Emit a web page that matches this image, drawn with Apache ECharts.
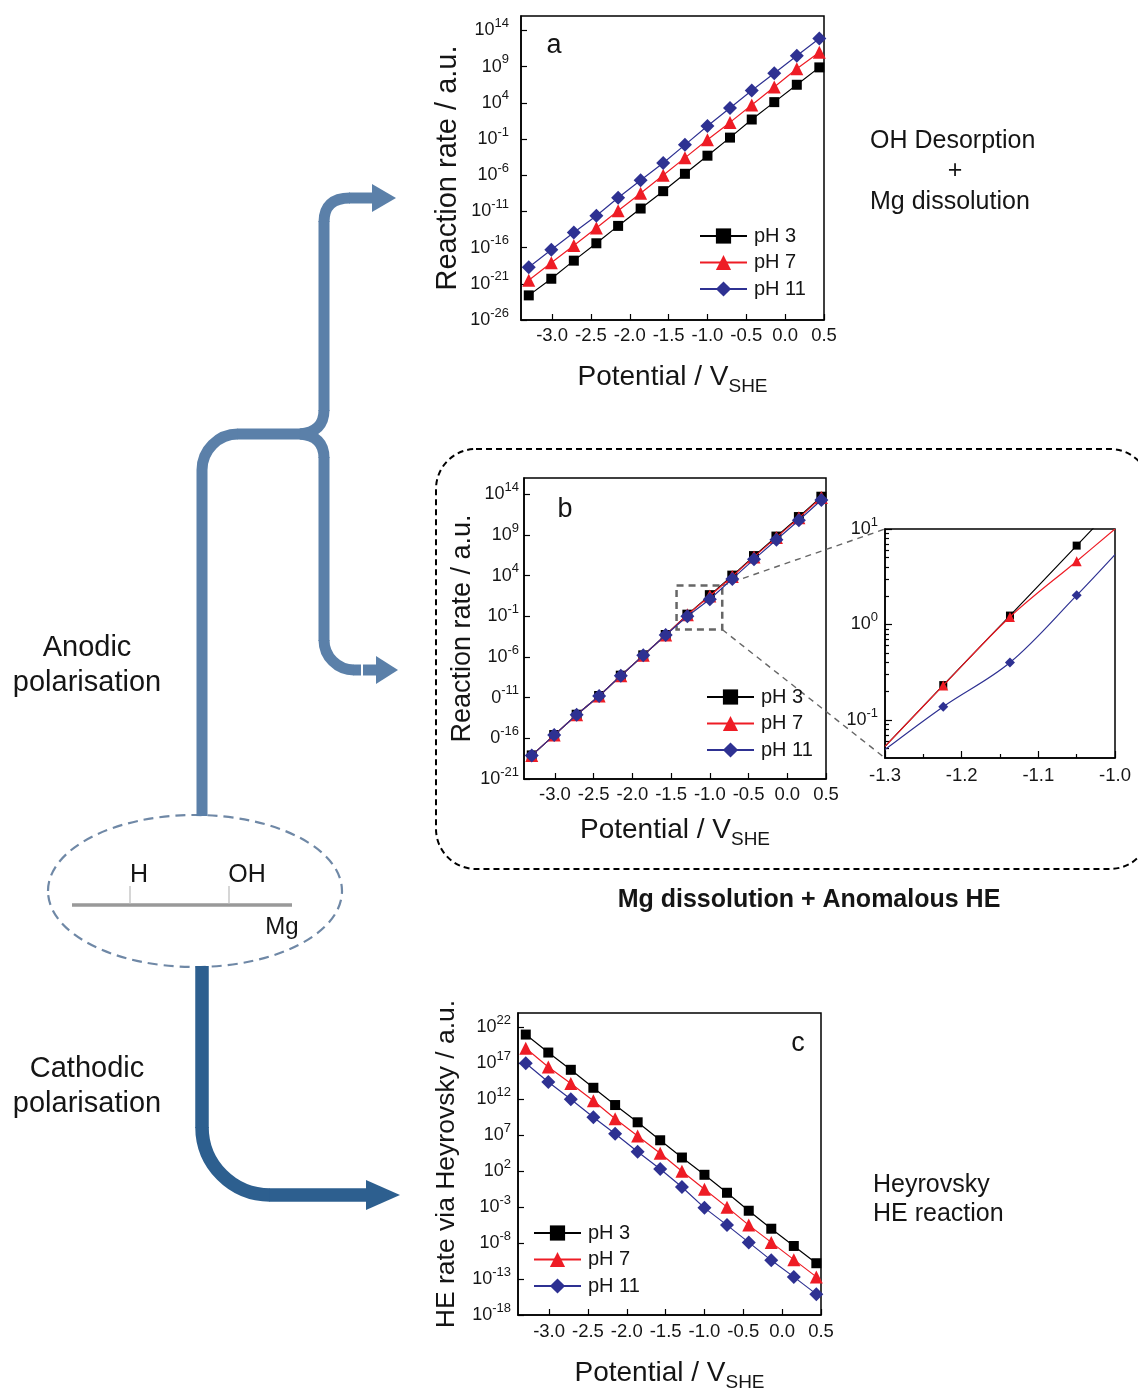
<!DOCTYPE html>
<html>
<head>
<meta charset="utf-8">
<script src="https://cdn.jsdelivr.net/npm/echarts@6/dist/echarts.min.js"></script>
<style>
html,body{margin:0;padding:0;background:#fff;}
#chart{width:1138px;height:1394px;}
</style>
</head>
<body>
<div id="chart"></div>
<script>
// ================= DATA =================
const seriesNames = ['pH 3', 'pH 7', 'pH 11'];
const potential = [-3.30,-3.01,-2.72,-2.43,-2.15,-1.86,-1.57,-1.29,-1.00,-0.71,-0.43,-0.14,0.15,0.44];

// panel a : OH desorption + Mg dissolution (log10 of reaction rate)
const a_pH3  = [-22.6,-20.3,-17.8,-15.4,-13.0,-10.6,-8.2,-5.8,-3.3,-0.8,1.7,4.1,6.5,8.9];
const a_pH7  = [-20.5,-18.1,-15.7,-13.3,-10.9,-8.5,-6.0,-3.6,-1.1,1.3,3.7,6.2,8.7,11.0];
const a_pH11 = [-18.7,-16.3,-13.9,-11.6,-9.1,-6.7,-4.3,-1.8,0.8,3.3,5.7,8.1,10.5,12.9];

// panel b : Mg dissolution + anomalous HE (log10 of reaction rate)
const b_pH3  = [-18.1,-15.6,-13.1,-10.8,-8.3,-5.8,-3.3,-0.8,1.6,4.0,6.4,8.8,11.2,13.7];
const b_pH7  = [-18.1,-15.6,-13.1,-10.8,-8.3,-5.8,-3.3,-0.8,1.5,3.9,6.3,8.7,11.1,13.6];
const b_pH11 = [-18.1,-15.6,-13.1,-10.8,-8.3,-5.8,-3.3,-1.0,1.1,3.6,6.0,8.4,10.8,13.3];

// panel c : HE rate via Heyrovsky (log10)
const c_pH3  = [21.0,18.5,16.1,13.6,11.2,8.8,6.3,3.9,1.5,-1.0,-3.5,-6.0,-8.4,-10.8];
const c_pH7  = [19.1,16.5,14.2,11.8,9.3,6.9,4.5,2.0,-0.5,-3.0,-5.5,-7.9,-10.3,-12.7];
const c_pH11 = [17.0,14.4,12.0,9.5,7.2,4.7,2.3,-0.2,-3.1,-5.5,-7.9,-10.4,-12.7,-15.1];

// axes / ticks
const xRange = [-3.4, 0.5];
const xTicks = [-3.0,-2.5,-2.0,-1.5,-1.0,-0.5,0.0,0.5];
const a_yRange = [-26, 16];
const a_yTicks = [-26,-21,-16,-11,-6,-1,4,9,14];
const b_yRange = [-21, 16];
const b_yTicks = [-21,-16,-11,-6,-1,4,9,14];
const b_yTickBase = ['10','0','0','10','10','10','10','10'];
const c_yRange = [-18, 24];
const c_yTicks = [-18,-13,-8,-3,2,7,12,17,22];

// inset (rate in a.u., log axis)
const insetPotential = [-1.3,-1.224,-1.137,-1.05,-1.0];
const inset_pH3  = [0.053,0.232,1.24,6.7,17.6];
const inset_pH7  = [0.053,0.23,1.2,4.6,10.0];
const inset_pH11 = [0.049,0.138,0.40,2.02,5.4];
const insetMarked = [false,true,true,true,false];
const insetXRange = [-1.3,-1.0];
const insetXTicks = [-1.3,-1.2,-1.1,-1.0];
const insetXMinor = [-1.25,-1.15,-1.05];
const insetYRange = [0.04,10];
const insetYTicks = [0.1,1,10];
const insetYMinor = [0.05,0.06,0.07,0.08,0.09,0.2,0.3,0.4,0.5,0.6,0.7,0.8,0.9,2,3,4,5,6,7,8,9];
// zoom box in panel b (potential, log10 rate)
const zoomBoxX = [-1.43,-0.84];
const zoomBoxY = [-2.63,2.78];

// ================= STYLE =================
const FONT = '"Liberation Sans", Arial, Helvetica, sans-serif';
const TXT = '#151515';
const styleSets = [
  {color:'#000000', symbol:'rect', size:10, inset:8},
  {color:'#ee1c25', symbol:'triangle', size:13, inset:10},
  {color:'#2e3192', symbol:'diamond', size:14, inset:10}
];

function powRich(){
  return {
    b:{fontSize:18, fontFamily:FONT, color:TXT},
    s:{fontSize:13, fontFamily:FONT, color:TXT, padding:[0,0,14,0]}
  };
}

function mainX(g, nameGap, margin){
  return {
    type:'value', gridIndex:g, min:xRange[0], max:xRange[1],
    name:'{n|Potential / V}{s|SHE}', nameLocation:'middle', nameGap:nameGap, nameMoveOverlap:false,
    nameTextStyle:{rich:{
      n:{fontSize:28, lineHeight:34, fontFamily:FONT, color:TXT},
      s:{fontSize:19, lineHeight:19, fontFamily:FONT, color:TXT, padding:[20,0,0,0]}
    }},
    axisLine:{show:true, onZero:false, lineStyle:{color:'#000', width:1.5}},
    axisTick:{show:true, inside:true, length:6, customValues:xTicks, lineStyle:{color:'#000', width:1.2}},
    axisLabel:{show:true, customValues:xTicks, formatter:v=>Number(v).toFixed(1), fontSize:18.5, fontFamily:FONT, color:TXT, margin:margin},
    splitLine:{show:false}
  };
}
function mainY(g, range, ticks, base, name, nameSize, nameGap, margin){
  return {
    type:'value', gridIndex:g, min:range[0], max:range[1],
    name:name, nameLocation:'middle', nameRotate:90, nameGap:nameGap, nameMoveOverlap:false,
    nameTextStyle:{fontSize:nameSize, fontFamily:FONT, color:TXT},
    axisLine:{show:true, onZero:false, lineStyle:{color:'#000', width:1.5}},
    axisTick:{show:true, inside:true, length:6, customValues:ticks, lineStyle:{color:'#000', width:1.2}},
    axisLabel:{show:true, customValues:ticks, margin:margin,
      formatter:(v)=>{ const i = ticks.indexOf(Math.round(v)); const b = base ? base[i] : '10'; return '{b|' + b + '}{s|' + Math.round(v) + '}'; },
      rich:powRich()},
    splitLine:{show:false}
  };
}

function mainSeries(axisIdx, arrays){
  return arrays.map((arr,k)=>({
    type:'line', name:seriesNames[k], xAxisIndex:axisIdx, yAxisIndex:axisIdx,
    data: potential.map((x,i)=>[x, arr[i]]),
    symbol:styleSets[k].symbol, symbolSize:styleSets[k].size, showSymbol:true, showAllSymbol:true,
    lineStyle:{color:styleSets[k].color, width:1.2},
    itemStyle:{color:styleSets[k].color},
    emphasis:{disabled:true}, z:3+k
  }));
}

const insetArrays = [inset_pH3, inset_pH7, inset_pH11];
const insetSeries = insetArrays.map((arr,k)=>({
  type:'line', name:seriesNames[k], xAxisIndex:3, yAxisIndex:3, smooth:0.35, clip:true,
  data: insetPotential.map((x,i)=> insetMarked[i] ? [x, Math.log10(arr[i])] : {value:[x, Math.log10(arr[i])], symbol:'none'}),
  symbol:styleSets[k].symbol, symbolSize:styleSets[k].inset, showSymbol:true, showAllSymbol:true,
  lineStyle:{color:styleSets[k].color, width:1.2},
  itemStyle:{color:styleSets[k].color},
  emphasis:{disabled:true}, z:3+k
}));

const bSeries = mainSeries(1, [b_pH3, b_pH7, b_pH11]);
bSeries[0].markArea = {
  silent:true, label:{show:false},
  itemStyle:{color:'rgba(0,0,0,0)', borderColor:'#666', borderWidth:2.5, borderType:[7,5]},
  data:[[{coord:[zoomBoxX[0], zoomBoxY[1]]},{coord:[zoomBoxX[1], zoomBoxY[0]]}]]
};

function legendAt(left, top){
  return {left:left, top:top, orient:'vertical', itemWidth:47, itemHeight:19, itemGap:6.5, padding:0,
    selectedMode:false, data:seriesNames,
    textStyle:{fontSize:20, lineHeight:20, fontFamily:FONT, color:TXT, padding:[0,0,0,2]}};
}

function txt(str, x, y, size, opts){
  const o = Object.assign({align:'center', weight:'normal', lh:size*1.2}, opts||{});
  return {type:'text', x:x, y:y, z:20, silent:true,
    style:{text:str, fontSize:size, fontFamily:FONT, fontWeight:o.weight, fill:TXT,
      align:o.align, textAlign:o.align, verticalAlign:'middle', textVerticalAlign:'middle', lineHeight:o.lh}};
}

const ANODIC = '#5b80a9';
const CATHODIC = '#2d5f8f';
function seg(x1,y1,x2,y2,color,w){
  return {type:'line', z:7, silent:true, shape:{x1:x1,y1:y1,x2:x2,y2:y2}, style:{stroke:color, lineWidth:w}};
}
function qcurve(x1,y1,cx,cy,x2,y2,color,w){
  return {type:'bezierCurve', z:7, silent:true, shape:{x1:x1,y1:y1,cpx1:cx,cpy1:cy,x2:x2,y2:y2}, style:{stroke:color, lineWidth:w, fill:'none'}};
}
function arcSeg(cx,cy,r,a0,a1,cw,color,w){
  return {type:'arc', z:7, silent:true, shape:{cx:cx,cy:cy,r:r,startAngle:a0,endAngle:a1,clockwise:cw}, style:{stroke:color, lineWidth:w, fill:'none'}};
}
const PI = Math.PI;
const graphics = [
  // surface ellipse
  {type:'ellipse', z:5, silent:true, shape:{cx:195, cy:891, rx:147, ry:76},
   style:{fill:'none', stroke:'#6f88a6', lineWidth:2.2, lineDash:[10,6]}},
  {type:'line', z:6, silent:true, shape:{x1:72, y1:905, x2:292, y2:905}, style:{stroke:'#999', lineWidth:3.5}},
  {type:'line', z:6, silent:true, shape:{x1:130, y1:886, x2:130, y2:904}, style:{stroke:'#bbb', lineWidth:1.2}},
  {type:'line', z:6, silent:true, shape:{x1:229, y1:886, x2:229, y2:904}, style:{stroke:'#bbb', lineWidth:1.2}},
  txt('H', 139, 875, 25), txt('OH', 247, 875, 25), txt('Mg', 282, 927, 24),
  // anodic arrows
  seg(202,816,202,470,ANODIC,11),
  arcSeg(238,470,36,PI,1.5*PI,true,ANODIC,11),
  seg(237.5,434,302,434,ANODIC,11),
  qcurve(300,434,324,432,324,410,ANODIC,11),
  seg(324,411,324,221,ANODIC,11),
  qcurve(324,222,324,198,350,198,ANODIC,11),
  seg(349,198,373,198,ANODIC,11),
  {type:'polygon', z:7, silent:true, shape:{points:[[372,184],[396,198],[372,212]]}, style:{fill:ANODIC}},
  qcurve(300,434,324,436,324,458,ANODIC,11),
  seg(324,457,324,641,ANODIC,11),
  arcSeg(354,640,30,PI,0.5*PI,false,ANODIC,11),
  seg(353.5,670,361,670,ANODIC,11),
  seg(363,670,377,670,ANODIC,11),
  {type:'polygon', z:7, silent:true, shape:{points:[[376,656],[398,670],[376,684]]}, style:{fill:ANODIC}},
  // cathodic arrow
  seg(202,966,202,1128,CATHODIC,13.5),
  arcSeg(270,1127,68,PI,0.5*PI,false,CATHODIC,13.5),
  seg(269.5,1195,368,1195,CATHODIC,13.5),
  {type:'polygon', z:7, silent:true, shape:{points:[[366,1180],[400,1195],[366,1210]]}, style:{fill:CATHODIC}},
  // left labels
  txt('Anodic\npolarisation', 87, 665.5, 29, {lh:35}),
  txt('Cathodic\npolarisation', 87, 1086.5, 29, {lh:35}),
  // right labels
  txt('OH Desorption', 870, 141, 25, {align:'left'}),
  txt('+', 955, 171, 25),
  txt('Mg dissolution', 870, 202, 25, {align:'left'}),
  txt('Heyrovsky', 873, 1185, 25, {align:'left'}),
  txt('HE reaction', 873, 1214, 25, {align:'left'}),
  txt('Mg dissolution + Anomalous HE', 809, 900, 25, {weight:'bold'}),
  // panel letters
  txt('a', 554, 46, 27), txt('b', 565, 510, 27), txt('c', 798, 1044, 27),
  // dashed rounded frame round panel b
  {type:'rect', z:1, silent:true, shape:{x:436, y:449, width:714, height:420, r:40},
   style:{fill:'none', stroke:'#000', lineWidth:2, lineDash:[6,4]}}
];

const gridCommon = {show:true, borderColor:'#000', borderWidth:1.5, backgroundColor:'rgba(0,0,0,0)', containLabel:false, outerBoundsMode:'none'};

const option = {
  animation:false,
  backgroundColor:'#ffffff',
  grid:[
    Object.assign({left:521, top:16, width:303, height:304}, gridCommon),
    Object.assign({left:524, top:478, width:302, height:301}, gridCommon),
    Object.assign({left:518, top:1013, width:303, height:302}, gridCommon),
    Object.assign({left:885, top:529, width:230, height:229}, gridCommon)
  ],
  xAxis:[
    mainX(0, 40, 6),
    mainX(1, 34, 6),
    mainX(2, 41, 7),
    {type:'value', gridIndex:3, min:insetXRange[0], max:insetXRange[1], position:'bottom',
     axisLine:{show:true, onZero:false, lineStyle:{color:'#000', width:1.5}},
     axisTick:{show:true, inside:true, length:7, customValues:insetXTicks, lineStyle:{color:'#000', width:1.2}},
     axisLabel:{show:true, customValues:insetXTicks, formatter:v=>Number(v).toFixed(1), fontSize:18.5, fontFamily:FONT, color:TXT, margin:8},
     splitLine:{show:false}},
    {type:'value', gridIndex:3, min:insetXRange[0], max:insetXRange[1], position:'bottom',
     axisLine:{show:false, onZero:false},
     axisTick:{show:true, inside:true, length:4, customValues:insetXMinor, lineStyle:{color:'#000', width:1.2}},
     axisLabel:{show:false}, splitLine:{show:false}}
  ],
  yAxis:[
    mainY(0, a_yRange, a_yTicks, null, 'Reaction rate / a.u.', 29, 59, 12),
    mainY(1, b_yRange, b_yTicks, b_yTickBase, 'Reaction rate / a.u.', 27, 48, 5),
    mainY(2, c_yRange, c_yTicks, null, 'HE rate via Heyrovsky / a.u.', 26.5, 58, 7),
    {type:'value', gridIndex:3, min:Math.log10(insetYRange[0]), max:Math.log10(insetYRange[1]), position:'left',
     axisLine:{show:true, onZero:false, lineStyle:{color:'#000', width:1.5}},
     axisTick:{show:true, inside:true, length:7, customValues:insetYTicks.map(Math.log10), lineStyle:{color:'#000', width:1.2}},
     axisLabel:{show:true, customValues:insetYTicks.map(Math.log10), margin:7,
       formatter:v=>'{b|10}{s|' + Math.round(v) + '}', rich:powRich()},
     splitLine:{show:false}},
    {type:'value', gridIndex:3, min:Math.log10(insetYRange[0]), max:Math.log10(insetYRange[1]), position:'left',
     axisLine:{show:false, onZero:false},
     axisTick:{show:true, inside:true, length:4, customValues:insetYMinor.map(Math.log10), lineStyle:{color:'#000', width:1.2}},
     axisLabel:{show:false}, splitLine:{show:false}}
  ],
  legend:[legendAt(699,226), legendAt(706,687), legendAt(533,1223)],
  series:[].concat(
    mainSeries(0, [a_pH3, a_pH7, a_pH11]),
    bSeries,
    mainSeries(2, [c_pH3, c_pH7, c_pH11]),
    insetSeries
  ),
  graphic:{elements:graphics}
};

const chart = echarts.init(document.getElementById('chart'), null, {renderer:'canvas'});
chart.setOption(option);

// dashed connector lines from zoom box (panel b) to inset corners
const pB = (x,y)=>chart.convertToPixel({xAxisIndex:1, yAxisIndex:1}, [x,y]);
const pI = (x,y)=>chart.convertToPixel({xAxisIndex:3, yAxisIndex:3}, [x,y]);
const boxTR = pB(zoomBoxX[1], zoomBoxY[1]);
const boxBR = pB(zoomBoxX[1], zoomBoxY[0]);
const insTL = pI(insetXRange[0], Math.log10(insetYRange[1]));
const insBL = pI(insetXRange[0], Math.log10(insetYRange[0]));
graphics.push(
  {type:'line', z:2, silent:true, shape:{x1:boxTR[0], y1:boxTR[1], x2:insTL[0], y2:insTL[1]}, style:{stroke:'#666', lineWidth:1.4, lineDash:[6,5]}},
  {type:'line', z:2, silent:true, shape:{x1:boxBR[0], y1:boxBR[1], x2:insBL[0], y2:insBL[1]}, style:{stroke:'#666', lineWidth:1.4, lineDash:[6,5]}}
);
chart.setOption({graphic:{elements:graphics}}, {replaceMerge:['graphic']});
</script>
</body>
</html>
